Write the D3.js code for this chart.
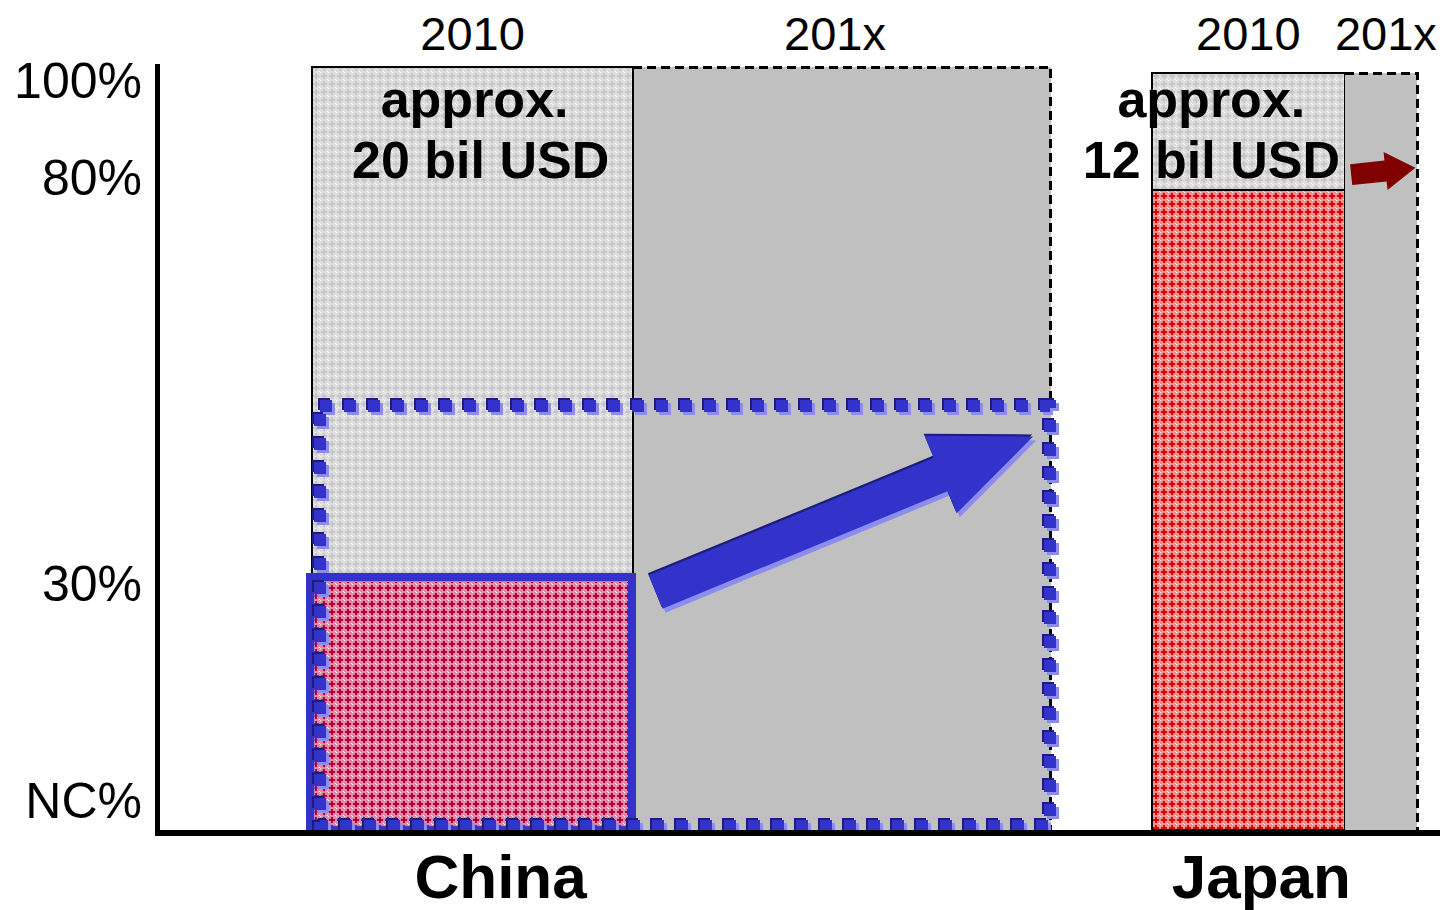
<!DOCTYPE html>
<html>
<head>
<meta charset="utf-8">
<script src="https://cdn.jsdelivr.net/npm/d3@7"></script>
<style>
  html, body { margin: 0; padding: 0; background: #fff; }
  svg { display: block; font-family: "Liberation Sans", Arial, sans-serif; }
</style>
</head>
<body>
<svg id="chart" width="1445" height="910"></svg>
<script>
// ---- data ----
const markets = ["China", "Japan"];
const yearLabels = ["2010", "201x"];
const marketSize2010 = [20, 12];      // bil USD, width of the 2010 column
const marketGrowth201x = [26, 4.5];   // extra bil USD expected by 201x
const columnTotal = [100, 99];        // height of each 2010 column, %
const ncShare2010 = [30, 80];         // NC share in 2010, %
const chinaTargetShare = 52;          // top of China's target zone, %
const tickValues = [100, 80, 30, 0];
const tickLabels = ["100%", "80%", "30%", "NC%"];
// growth arrows: [bil USD from market start, share %]
const chinaArrow = { from: [21.4, 28], to: [44.9, 48] };
const japanArrow = { from: [12.4, 82.5], to: [16.4, 83.6] };

// ---- layout ----
const svg = d3.select("#chart");
const gapUnits = 6.3;
const marketStart = [0, marketSize2010[0] + marketGrowth201x[0] + gapUnits];
const totalUnits = marketStart[1] + marketSize2010[1] + marketGrowth201x[1];

const x = d3.scaleLinear().domain([0, totalUnits]).range([312, 1417]);
const y = d3.scaleLinear().domain([0, 30, 80, 100]).range([830, 575, 190, 67]);

// ---- fill patterns ----
const defs = svg.append("defs");
function lattice(id, light, dark) {
  const p = defs.append("pattern").attr("id", id)
    .attr("width", 8).attr("height", 8).attr("patternUnits", "userSpaceOnUse");
  p.append("rect").attr("width", 8).attr("height", 8).attr("fill", light);
  p.append("rect").attr("x", 3).attr("y", 1).attr("width", 2).attr("height", 6).attr("fill", dark);
  p.append("rect").attr("x", 1).attr("y", 3).attr("width", 6).attr("height", 2).attr("fill", dark);
  p.append("rect").attr("x", 0).attr("y", 0).attr("width", 1).attr("height", 1).attr("fill", "#fff");
  p.append("rect").attr("x", 7).attr("y", 7).attr("width", 1).attr("height", 1).attr("fill", "#fff");
}
lattice("pGrey", "#dedede", "#c6c6c6");
lattice("pCrimson", "#e488a6", "#ad0038");
lattice("pRed", "#f29090", "#e00000");

const bars = svg.append("g").attr("shape-rendering", "crispEdges");

markets.forEach((m, i) => {
  const x0 = x(marketStart[i]);
  const x1 = x(marketStart[i] + marketSize2010[i]);
  const x2 = x(marketStart[i] + marketSize2010[i] + marketGrowth201x[i]);
  const top = y(columnTotal[i]);
  const base = y(0);

  // 201x growth column (grey, dashed outline top + right)
  bars.append("rect")
    .attr("x", x1).attr("y", top).attr("width", x2 - x1).attr("height", base - top)
    .attr("fill", "#c0c0c0");
  bars.append("path")
    .attr("d", `M${x1},${top}H${x2}V${base}`)
    .attr("fill", "none").attr("stroke", "#000").attr("stroke-width", 3)
    .attr("stroke-dasharray", "9 5");

  // 2010 column: non-NC part
  bars.append("rect")
    .attr("x", x0).attr("y", top).attr("width", x1 - x0).attr("height", base - top)
    .attr("fill", "url(#pGrey)").attr("stroke", "#000").attr("stroke-width", 1.5);
  // 2010 column: NC part
  const ncTop = y(ncShare2010[i]);
  bars.append("rect")
    .attr("x", x0).attr("y", ncTop).attr("width", x1 - x0).attr("height", base - ncTop)
    .attr("fill", i === 0 ? "url(#pCrimson)" : "url(#pRed)")
    .attr("stroke", "#000").attr("stroke-width", 1.5);
});

// ---- China highlight: current NC share and the target zone ----
const hl = svg.append("g");
const c0 = x(marketStart[0]), c1 = x(marketSize2010[0]);
const c2 = x(marketSize2010[0] + marketGrowth201x[0]);

// current NC share frame
hl.append("rect")
  .attr("x", c0 + 1).attr("y", y(ncShare2010[0]) + 5.5)
  .attr("width", c1 - c0 - 1).attr("height", y(0) - y(ncShare2010[0]) - 7)
  .attr("fill", "none").attr("stroke", "#8a8ae8").attr("stroke-width", 3);
hl.append("rect")
  .attr("x", c0 - 2).attr("y", y(ncShare2010[0]) + 2)
  .attr("width", c1 - c0 + 1).attr("height", y(0) - y(ncShare2010[0]) - 2)
  .attr("fill", "none").attr("stroke", "#3333cc").attr("stroke-width", 8)
  .attr("shape-rendering", "crispEdges");

// dotted target zone, three passes give each dot a bevelled look
const zone = `M${c0 + 8},${y(chinaTargetShare)}H${c2 - 1}V${y(0) - 4}H${c0 + 8}Z`;
[["#1c1c7a", -2, -2], ["#8c8cee", 3, 3], ["#3333cc", 0, 0]].forEach(([col, dx, dy]) => {
  hl.append("path").attr("d", zone)
    .attr("transform", `translate(${dx},${dy})`)
    .attr("fill", "none").attr("stroke", col).attr("stroke-width", 12)
    .attr("stroke-dasharray", "12 12").attr("stroke-linejoin", "miter")
    .attr("shape-rendering", "crispEdges");
});

// block arrow polygon between two pixel points
function arrowPoints(p0, p1, w, hw, hl) {
  const dx = p1[0] - p0[0], dy = p1[1] - p0[1];
  const len = Math.hypot(dx, dy);
  const ux = dx / len, uy = dy / len, nx = -uy, ny = ux;
  const bx = p1[0] - ux * hl, by = p1[1] - uy * hl;
  return [
    [p0[0] + nx * w / 2, p0[1] + ny * w / 2],
    [bx + nx * w / 2, by + ny * w / 2],
    [bx + nx * hw / 2, by + ny * hw / 2],
    p1,
    [bx - nx * hw / 2, by - ny * hw / 2],
    [bx - nx * w / 2, by - ny * w / 2],
    [p0[0] - nx * w / 2, p0[1] - ny * w / 2]
  ].map(p => p.join(",")).join(" ");
}

const ca0 = [x(chinaArrow.from[0]), y(chinaArrow.from[1])];
const ca1 = [x(chinaArrow.to[0]), y(chinaArrow.to[1])];
const caPts = arrowPoints(ca0, ca1, 36, 84, 100);
hl.append("polygon").attr("points", caPts).attr("fill", "#8c8cee").attr("transform", "translate(3,4)");
hl.append("polygon").attr("points", caPts).attr("fill", "#1c1c7a").attr("transform", "translate(-1,-2)");
hl.append("polygon").attr("points", caPts).attr("fill", "#3333cc");

// Japan growth arrow
const ja0 = [x(marketStart[1] + japanArrow.from[0]), y(japanArrow.from[1])];
const ja1 = [x(marketStart[1] + japanArrow.to[0]), y(japanArrow.to[1])];
svg.append("polygon").attr("points", arrowPoints(ja0, ja1, 21, 38, 30)).attr("fill", "#800000");

// ---- axes ----
svg.append("line").attr("x1", 157.5).attr("x2", 157.5).attr("y1", 64).attr("y2", 836)
  .attr("stroke", "#000").attr("stroke-width", 5);
svg.append("line").attr("x1", 155).attr("x2", 1440).attr("y1", 833).attr("y2", 833)
  .attr("stroke", "#000").attr("stroke-width", 6);

const tickNudge = [30, 4, 25, -13]; // baseline offset of each label from its value
const yAxis = svg.append("g").attr("transform", "translate(157,0)")
  .call(d3.axisLeft(y).tickValues(tickValues).tickFormat((d, i) => tickLabels[i])
    .tickSize(0).tickPadding(15));
yAxis.select(".domain").remove();
yAxis.selectAll("text")
  .attr("dy", (d, i) => tickNudge[i])
  .attr("font-size", 50).attr("fill", "#000")
  .attr("font-family", "'Liberation Sans', Arial, sans-serif");

// ---- labels ----
const labels = svg.append("g").attr("fill", "#000").attr("text-anchor", "middle");
markets.forEach((m, i) => {
  const x0 = x(marketStart[i]);
  const x1 = x(marketStart[i] + marketSize2010[i]);
  const x2 = x(marketStart[i] + marketSize2010[i] + marketGrowth201x[i]);
  const yearX = [(x0 + x1) / 2, (x1 + x2) / 2 + (i === 0 ? -7 : 5)];
  yearLabels.forEach((yl, j) => {
    labels.append("text").attr("x", yearX[j]).attr("y", 50)
      .attr("font-size", 47).text(yl);
  });
  const sizeX = (x0 + x1) / 2 + (i === 0 ? 8 : -37);
  labels.append("text").attr("x", sizeX - (i === 0 ? 6 : 0)).attr("y", 117)
    .attr("font-size", 52).attr("font-weight", "bold").text("approx.");
  labels.append("text").attr("x", sizeX).attr("y", 178)
    .attr("font-size", 52).attr("font-weight", "bold").text(`${marketSize2010[i]} bil USD`);
  labels.append("text").attr("x", (x0 + x1) / 2 + (i === 0 ? 28 : 13)).attr("y", 898)
    .attr("font-size", 62).attr("font-weight", "bold").text(m);
});
</script>
</body>
</html>
